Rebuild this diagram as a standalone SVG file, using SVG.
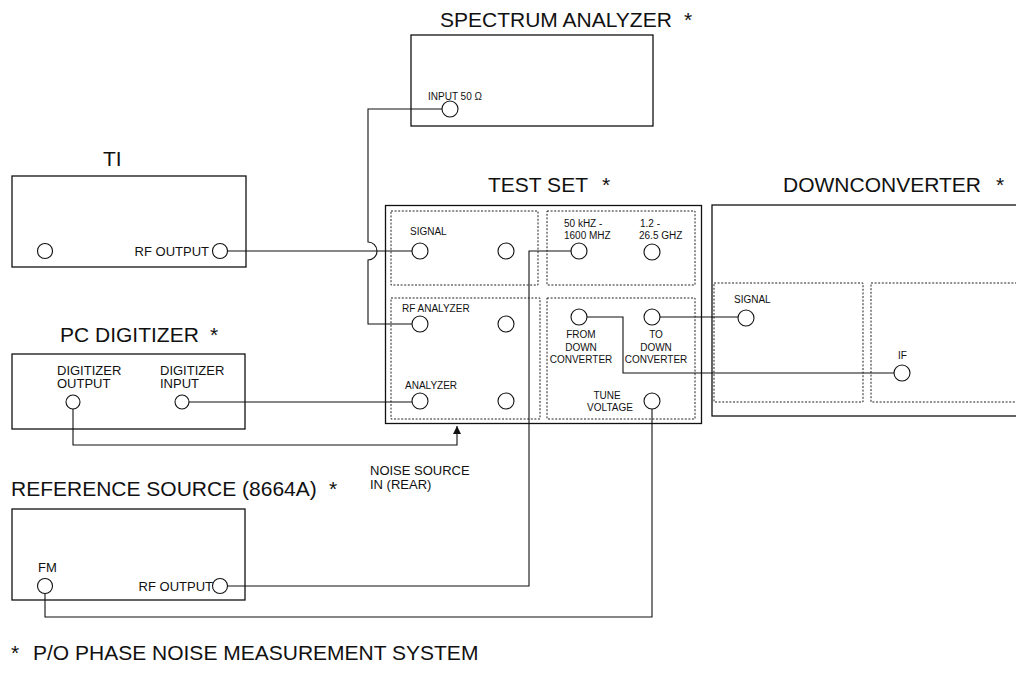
<svg xmlns="http://www.w3.org/2000/svg" width="1016" height="677" viewBox="0 0 1016 677">
<style>
.box{fill:none;stroke:#111;stroke-width:1.3}
.panel{fill:none;stroke:#222;stroke-width:1;stroke-dasharray:2 1.6}
.port{fill:#fff;stroke:#111;stroke-width:1.1}
.wire{fill:none;stroke:#111;stroke-width:1.1}
text{font-family:"Liberation Sans",Arial,sans-serif;fill:#111}
.title{font-size:21px}
.lbl{font-size:10px}
.lbm{font-size:13px}
.mid{text-anchor:middle}
.end{text-anchor:end}
</style>
<defs>
<marker id="arrow" viewBox="0 0 10 10" refX="10" refY="5" markerWidth="8" markerHeight="8" markerUnits="userSpaceOnUse" orient="auto">
<path d="M0,0 L10,5 L0,10 z" fill="#111"/>
</marker>
</defs>
<rect width="1016" height="677" fill="#fff"/>

<g id="connectors">
<path class="wire" d="M450,109 H368 V242 A9,9 0 0 1 368,260 V324 H420"/>
<path class="wire" d="M220,251 H420"/>
<path class="wire" d="M182,402 H420"/>
<path class="wire" d="M73,402 V445 H457 V426" marker-end="url(#arrow)"/>
<path class="wire" d="M220,586 H529 V251 H579"/>
<path class="wire" d="M45,586 V617 H652 V401"/>
<path class="wire" d="M652,317 H746"/>
<path class="wire" d="M579,317 H623 V373 H902"/>
</g>

<g id="spectrum-analyzer">
<text class="title" x="440" y="27">SPECTRUM ANALYZER<tspan x="684">*</tspan></text>
<rect class="box" x="411" y="35" width="242" height="91"/>
<text class="lbl" x="428" y="100">INPUT 50 Ω</text>
<circle class="port" cx="450" cy="109" r="8"/>
</g>

<g id="ti">
<text class="title" x="103" y="166">TI</text>
<rect class="box" x="12" y="176" width="234" height="91"/>
<circle class="port" cx="45" cy="251" r="7.5"/>
<text class="lbm end" x="209" y="256">RF OUTPUT</text>
<circle class="port" cx="220" cy="251" r="7.5"/>
</g>

<g id="test-set">
<text class="title" x="488" y="192">TEST SET<tspan x="602">*</tspan></text>
<rect class="box" x="385.5" y="205.5" width="316" height="218" stroke-width="1.6"/>
<rect class="panel" x="391" y="211" width="147" height="74"/>
<rect class="panel" x="547" y="211" width="148" height="74"/>
<rect class="panel" x="391" y="298" width="149" height="121"/>
<rect class="panel" x="547" y="298" width="148" height="121"/>
<text class="lbl" x="410" y="235">SIGNAL</text>
<circle class="port" cx="420" cy="251" r="8"/>
<circle class="port" cx="506" cy="251" r="8"/>
<text class="lbl" x="564" y="227">50 kHZ -</text>
<text class="lbl" x="564" y="239">1600 MHZ</text>
<circle class="port" cx="579" cy="251" r="8"/>
<text class="lbl" x="640" y="227">1.2 -</text>
<text class="lbl" x="639" y="239">26.5 GHZ</text>
<circle class="port" cx="652" cy="252" r="8"/>
<text class="lbl" x="402" y="312">RF ANALYZER</text>
<circle class="port" cx="420" cy="324" r="8"/>
<circle class="port" cx="506" cy="324" r="8"/>
<text class="lbl" x="405" y="389">ANALYZER</text>
<circle class="port" cx="420" cy="401" r="8"/>
<circle class="port" cx="506" cy="401" r="8"/>
<circle class="port" cx="579" cy="317" r="8"/>
<text class="lbl mid" x="581" y="338">FROM</text>
<text class="lbl mid" x="581" y="351">DOWN</text>
<text class="lbl mid" x="581" y="363">CONVERTER</text>
<circle class="port" cx="652" cy="317" r="8"/>
<text class="lbl mid" x="656" y="338">TO</text>
<text class="lbl mid" x="656" y="351">DOWN</text>
<text class="lbl mid" x="656" y="363">CONVERTER</text>
<text class="lbl mid" x="607" y="399">TUNE</text>
<text class="lbl mid" x="610" y="411">VOLTAGE</text>
<circle class="port" cx="652" cy="401" r="8"/>
</g>

<g id="downconverter">
<text class="title" x="783" y="192">DOWNCONVERTER<tspan x="996">*</tspan></text>
<rect class="box" x="712" y="205" width="330" height="211"/>
<rect class="panel" x="714" y="283" width="149" height="119"/>
<rect class="panel" x="871" y="283" width="160" height="119"/>
<text class="lbl" x="734" y="303">SIGNAL</text>
<circle class="port" cx="746" cy="318" r="8"/>
<text class="lbl" x="898" y="359">IF</text>
<circle class="port" cx="902" cy="373" r="8"/>
</g>

<g id="pc-digitizer">
<text class="title" x="60" y="342">PC DIGITIZER<tspan x="210">*</tspan></text>
<rect class="box" x="12" y="354" width="233" height="75"/>
<text class="lbm" x="57" y="375">DIGITIZER</text>
<text class="lbm" x="57" y="388">OUTPUT</text>
<circle class="port" cx="73" cy="402" r="7"/>
<text class="lbm" x="160" y="375">DIGITIZER</text>
<text class="lbm" x="160" y="388">INPUT</text>
<circle class="port" cx="182" cy="402" r="7"/>
</g>

<g id="noise-source-label">
<text class="lbm" x="370" y="475">NOISE SOURCE</text>
<text class="lbm" x="370" y="489">IN (REAR)</text>
</g>

<g id="reference-source">
<text class="title" x="11" y="496">REFERENCE SOURCE (8664A)<tspan x="329">*</tspan></text>
<rect class="box" x="12" y="509" width="233" height="91"/>
<text class="lbm" x="38" y="572">FM</text>
<circle class="port" cx="45" cy="586" r="7.5"/>
<text class="lbm end" x="213" y="591">RF OUTPUT</text>
<circle class="port" cx="220" cy="586" r="7.5"/>
</g>

<g id="note">
<text class="title" x="11" y="660">*<tspan x="33">P/O PHASE NOISE MEASUREMENT SYSTEM</tspan></text>
</g>
</svg>
